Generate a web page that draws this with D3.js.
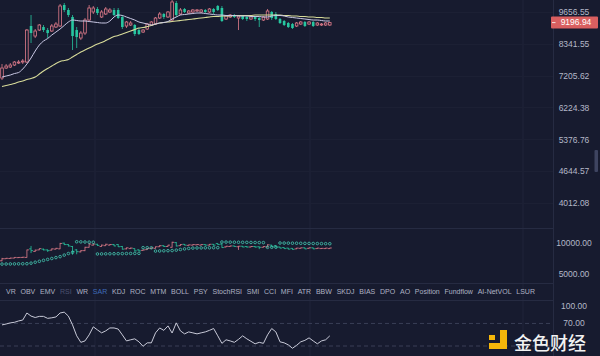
<!DOCTYPE html>
<html>
<head>
<meta charset="utf-8">
<script src="https://cdn.jsdelivr.net/npm/d3@7"></script>
<style>
  body { margin: 0; background: #171b2f; }
  svg { display: block; }
</style>
</head>
<body>
<svg id="chart" width="600" height="356"></svg>
<script>
"use strict";

// Candles (price units)
var opens = [7128,7463,7497,7567,7637,7672,7672,9054,8646,8888,
    9012,8888,8848,9012,9054,9973,9746,9437,8888,8567,
    8766,9307,9657,9791,9437,9568,9657,9746,9746,9437,
    9054,9096,9096,8888,8807,8930,9096,9137,9393,9568,
    9437,9307,10065,9568,9791,9612,9657,9701,9657,9746,
    9657,9791,9927,9836,9350,9437,9524,9393,9480,9437,
    9350,9437,9393,9307,9350,9657,9568,9350,9265,9180,
    9137,9054,9137,9222,9137,9222,9096,9096,9096,9096];
var closes = [7463,7532,7567,7672,7672,7707,8888,8766,8848,9096,
    8888,8766,9054,9137,9927,9746,9524,8646,8606,8766,
    9307,9836,9836,9612,9657,9791,9746,9524,9393,9012,
    9222,9180,8726,8726,8888,9137,9222,9393,9568,9437,
    9657,10112,9524,9746,9657,9701,9746,9746,9746,9657,
    9791,9657,9746,9265,9480,9524,9437,9480,9350,9350,
    9437,9350,9307,9437,9701,9393,9350,9180,9096,9012,
    8971,9180,9222,9054,9222,9054,9180,9137,9180,9196.94];
var highs = [7602,7602,7637,7707,7743,7779,8930,9524,8930,9137,
    9096,8971,9137,9222,10019,10065,9836,9524,9012,8848,
    9393,9973,9927,9881,9746,9881,9836,9836,9836,9524,
    9265,9265,9137,8971,8930,9180,9265,9437,9657,9612,
    9701,10206,10159,9836,9836,9746,9791,9791,9791,9791,
    9836,9836,9973,9927,9524,9568,9568,9524,9524,9480,
    9480,9480,9437,9480,9791,9701,9657,9393,9307,9222,
    9180,9222,9265,9265,9265,9265,9222,9180,9222,9222];
var lows = [7062,7429,7463,7532,7602,7602,7637,8372,8567,8848,
    8807,8567,8807,8971,9012,9657,9437,8108,8182,8488,
    8686,9265,9568,9524,9393,9524,9612,9480,9350,8930,
    8971,9054,8646,8686,8766,8888,9054,9096,9350,9350,
    9393,9265,9437,9524,9612,9568,9612,9657,9612,9612,
    9612,9568,9701,9222,9307,9393,9393,8888,9307,9265,
    9307,9265,9012,9265,9307,9307,9307,9137,9054,8971,
    8930,9012,9096,9012,9096,9012,9054,9054,9054,9054];

// Moving averages (short = light line, long = yellow line)
var maShort = [7161,7194,7227,7277,7310,7429,7602,7815,8071,8296,
    8449,8547,8686,8807,8930,9075,9222,9307,9286,9265,
    9265,9243,9222,9201,9180,9180,9265,9437,9524,9502,
    9437,9372,9307,9222,9180,9137,9096,9137,9180,9201,
    9243,9350,9437,9524,9546,9568,9590,9612,9612,9590,
    9568,9546,9524,9524,9502,9502,9502,9480,9480,9480,
    9458,9458,9458,9437,9437,9480,9502,9502,9480,9437,
    9415,9393,9372,9350,9328,9307,9307,9286,9265,9265];
var maLong = [6855,6886,6918,6950,6998,7030,7079,7112,7161,7260,
    7361,7446,7532,7620,7690,7725,7761,7851,7942,8034,
    8108,8182,8258,8334,8392,8468,8547,8626,8666,8726,
    8787,8848,8909,8971,8992,9033,9075,9137,9180,9201,
    9222,9243,9265,9286,9307,9328,9350,9372,9393,9415,
    9437,9458,9458,9480,9480,9480,9502,9502,9502,9502,
    9502,9524,9524,9524,9524,9524,9524,9524,9502,9502,
    9480,9480,9458,9458,9437,9437,9415,9415,9393,9393];

// Parabolic SAR dots
var sarValues = [6600,6610,6620,6630,6640,6650,6660,6750,6900,7050,
    7200,7350,7500,7650,7800,8050,8300,8500,10200,10180,
    10160,10140,10120,8230,8240,8250,8260,8270,8280,8290,
    8300,8310,8320,8330,9250,9240,9230,8700,8720,8740,
    8760,8780,8850,8950,9050,9120,9180,9200,9210,9220,
    9230,9240,9250,10160,10150,10140,10130,10120,10110,10100,
    10090,10080,10070,10060,9300,9310,9320,10000,9990,9980,
    9970,9960,9950,9940,9930,9920,9910,9900,9890,9880];

// RSI
var rsiValues = [67.4,69,71,72,74.4,76,88.5,83,80.5,82.5,
    82.5,79,80,81.5,88.5,90,83,67.4,48,36.5,
    39,49.7,64,58.5,53.3,56.8,62,62,60,49.7,
    39,41,42.7,37.4,29.5,35.6,35.6,53.3,62,57.7,
    65.6,53,71,56.8,51.5,55,53.3,51.5,53.3,55,
    57.7,61,48,34.7,41,39,36.5,41.8,48,42.7,
    38.3,33.9,36.5,34.7,49.7,61,55,37.4,35.6,32,
    26,31.2,37.4,40,44.4,39,33.9,39,41,48];

var priceTicks = [9656.55, 8341.55, 7205.62, 6224.38, 5376.76, 4644.57, 4012.08];
var sarTicks = [10000, 5000];
var rsiTicks = [100, 70];
var rsiBands = [70, 30];
var tabLabels = ["VR","OBV","EMV","RSI","WR","SAR","KDJ","ROC","MTM","BOLL","PSY","StochRSI",
    "SMI","CCI","MFI","ATR","BBW","SKDJ","BIAS","DPO","AO","Position","Fundflow","AI-NetVOL","LSUR"];

var N = closes.length;
var UP = "#e27d8c", DOWN = "#27c6a0", BG = "#171b2f", GRID = "#20253b";
var FONT = "'Liberation Sans', Arial, sans-serif";
var plotRight = 553;

var svg = d3.select("#chart");
svg.append("rect").attr("width", 600).attr("height", 356).attr("fill", BG);

// scales
var x = d3.scaleLinear().domain([0, N - 1]).range([2, 329.8]);
var yPrice = d3.scaleLog().domain([4012.08, 9656.55]).range([203, 12]);
var ySub = d3.scaleLinear().domain([5000, 10000]).range([274, 243]);
var yRsi = d3.scaleLinear().domain([30, 100]).range([346, 306.5]);

var defs = svg.append("defs");
defs.append("clipPath").attr("id", "clipMain").append("rect")
    .attr("x", 0).attr("y", 0).attr("width", plotRight).attr("height", 228);
defs.append("clipPath").attr("id", "clipSub").append("rect")
    .attr("x", 0).attr("y", 229).attr("width", plotRight).attr("height", 54);

// grid
var grid = svg.append("g");
[95, 310, 523].forEach(function(gx) {
    grid.append("line").attr("x1", gx).attr("x2", gx).attr("y1", 0).attr("y2", 356)
        .attr("stroke", GRID).attr("stroke-width", 1);
});
priceTicks.forEach(function(t) {
    grid.append("line").attr("x1", 0).attr("x2", plotRight)
        .attr("y1", Math.round(yPrice(t)) + 0.5).attr("y2", Math.round(yPrice(t)) + 0.5)
        .attr("stroke", "#1c2034");
});
[228.5, 283.5, 300.5].forEach(function(gy) {
    grid.append("line").attr("x1", 0).attr("x2", plotRight).attr("y1", gy).attr("y2", gy)
        .attr("stroke", "#262b42");
});
grid.append("line").attr("x1", plotRight + 0.5).attr("x2", plotRight + 0.5)
    .attr("y1", 0).attr("y2", 356).attr("stroke", "#262b42");

// main candles
var gMain = svg.append("g").attr("clip-path", "url(#clipMain)");
var idx = d3.range(N);
var isUp = function(i) { return closes[i] >= opens[i]; };

gMain.selectAll("line.wick").data(idx).join("line")
    .attr("class", "wick")
    .attr("x1", function(i) { return x(i); }).attr("x2", function(i) { return x(i); })
    .attr("y1", function(i) { return yPrice(highs[i]); })
    .attr("y2", function(i) { return yPrice(lows[i]); })
    .attr("stroke", function(i) { return isUp(i) ? UP : DOWN; })
    .attr("stroke-width", 0.8);

var bodyW = 2.6;
gMain.selectAll("rect.body").data(idx).join("rect")
    .attr("class", "body")
    .attr("x", function(i) { return x(i) - bodyW / 2; })
    .attr("y", function(i) { return Math.min(yPrice(opens[i]), yPrice(closes[i])); })
    .attr("width", bodyW)
    .attr("height", function(i) { return Math.max(0.9, Math.abs(yPrice(opens[i]) - yPrice(closes[i]))); })
    .attr("fill", function(i) { return isUp(i) ? BG : DOWN; })
    .attr("stroke", function(i) { return isUp(i) ? UP : "none"; })
    .attr("stroke-width", 0.8);

var maLine = d3.line()
    .x(function(d, i) { return x(i); })
    .y(function(d) { return yPrice(d); })
    .curve(d3.curveMonotoneX);
gMain.append("path").attr("d", maLine(maLong)).attr("fill", "none")
    .attr("stroke", "#d8dc9a").attr("stroke-width", 1.1);
gMain.append("path").attr("d", maLine(maShort)).attr("fill", "none")
    .attr("stroke", "#c9c8e4").attr("stroke-width", 1);

// SAR panel: small OHLC bars + dots
var gSub = svg.append("g").attr("clip-path", "url(#clipSub)");
var bars = gSub.selectAll("g.bar").data(idx).join("g").attr("class", "bar")
    .attr("stroke", function(i) { return isUp(i) ? UP : DOWN; })
    .attr("stroke-width", 0.8);
bars.append("line")
    .attr("x1", function(i) { return x(i); }).attr("x2", function(i) { return x(i); })
    .attr("y1", function(i) { return ySub(highs[i]); })
    .attr("y2", function(i) { return ySub(lows[i]); });
bars.append("line")
    .attr("x1", function(i) { return x(i) - 2; }).attr("x2", function(i) { return x(i); })
    .attr("y1", function(i) { return ySub(opens[i]); }).attr("y2", function(i) { return ySub(opens[i]); });
bars.append("line")
    .attr("x1", function(i) { return x(i); }).attr("x2", function(i) { return x(i) + 2; })
    .attr("y1", function(i) { return ySub(closes[i]); }).attr("y2", function(i) { return ySub(closes[i]); });

gSub.selectAll("circle.sar").data(idx).join("circle")
    .attr("class", "sar")
    .attr("cx", function(i) { return x(i); })
    .attr("cy", function(i) { return ySub(sarValues[i]); })
    .attr("r", 1.3)
    .attr("fill", "none")
    .attr("stroke", "#45cbb4")
    .attr("stroke-width", 0.8);

// RSI panel
var gRsi = svg.append("g");
rsiBands.forEach(function(b) {
    gRsi.append("line").attr("x1", 0).attr("x2", plotRight)
        .attr("y1", yRsi(b)).attr("y2", yRsi(b))
        .attr("stroke", "#3a3f57").attr("stroke-dasharray", "4,3");
});
var rsiLine = d3.line()
    .x(function(d, i) { return x(i); })
    .y(function(d) { return yRsi(d); });
gRsi.append("path").attr("d", rsiLine(rsiValues)).attr("fill", "none")
    .attr("stroke", "#c8cad8").attr("stroke-width", 1);

// axes
function styleAxis(g) {
    g.select(".domain").remove();
    g.selectAll("text").attr("x", 21).attr("text-anchor", "middle")
        .attr("fill", "#b4b8c8").style("font", "8.5px " + FONT);
}
svg.append("g").attr("transform", "translate(" + plotRight + ",0)")
    .call(d3.axisRight(yPrice).tickValues(priceTicks).tickFormat(d3.format(".2f")).tickSize(0))
    .call(styleAxis);
svg.append("g").attr("transform", "translate(" + plotRight + ",0)")
    .call(d3.axisRight(ySub).tickValues(sarTicks).tickFormat(d3.format(".2f")).tickSize(0))
    .call(styleAxis);
// RSI labels sit a touch above their level so the watermark stays clear
svg.append("g").attr("transform", "translate(" + plotRight + ",-1)")
    .call(d3.axisRight(yRsi).tickValues(rsiTicks).tickFormat(d3.format(".2f")).tickSize(0))
    .call(styleAxis);

// last price label
var lastY = yPrice(closes[N - 1]);
svg.append("rect").attr("x", 551).attr("y", lastY - 6).attr("width", 47).attr("height", 12)
    .attr("fill", "#d95f60").attr("rx", 1);
svg.append("line").attr("x1", 552).attr("x2", 555.5).attr("y1", lastY).attr("y2", lastY)
    .attr("stroke", "#ffffff").attr("stroke-width", 0.8);
svg.append("text").attr("x", 576).attr("y", lastY).attr("dy", "0.34em")
    .attr("text-anchor", "middle").attr("fill", "#ffffff")
    .style("font", "8.5px " + FONT)
    .text(d3.format(".2f")(closes[N - 1]));

// scroll handle on right edge
svg.append("rect").attr("x", 594.5).attr("y", 150).attr("width", 3.5).attr("height", 22)
    .attr("rx", 1).attr("fill", "#3e4460");

// indicator tabs
var gTabs = svg.append("g");
var tabTexts = gTabs.selectAll("text").data(tabLabels).join("text")
    .attr("y", 292).attr("dy", "0.35em")
    .style("font", "7px " + FONT)
    .attr("fill", function(d) { return d === "SAR" ? "#3f6bb8" : (d === "RSI" ? "#4c5270" : "#aeb2c3"); })
    .text(function(d) { return d; });
var widths = [];
tabTexts.each(function() { widths.push(this.getComputedTextLength()); });
var tabStart = 6, tabEnd = 535;
var gap = (tabEnd - tabStart - d3.sum(widths)) / (tabLabels.length - 1);
var cursor = tabStart;
tabTexts.attr("x", function(d, i) {
    var pos = cursor;
    cursor += widths[i] + gap;
    return pos;
});

// watermark logo
var logo = svg.append("g").attr("fill", "#f4b60a");
logo.append("rect").attr("x", 489).attr("y", 335).attr("width", 6).attr("height", 5);
logo.append("rect").attr("x", 500).attr("y", 330).attr("width", 7).attr("height", 19);
logo.append("rect").attr("x", 489).attr("y", 343).attr("width", 18).attr("height", 6);
svg.append("text").attr("x", 514).attr("y", 350)
    .attr("fill", "#f2f2f2")
    .style("font", "500 18px 'Noto Sans CJK SC', sans-serif")
    .text("金色财经");
</script>
</body>
</html>
